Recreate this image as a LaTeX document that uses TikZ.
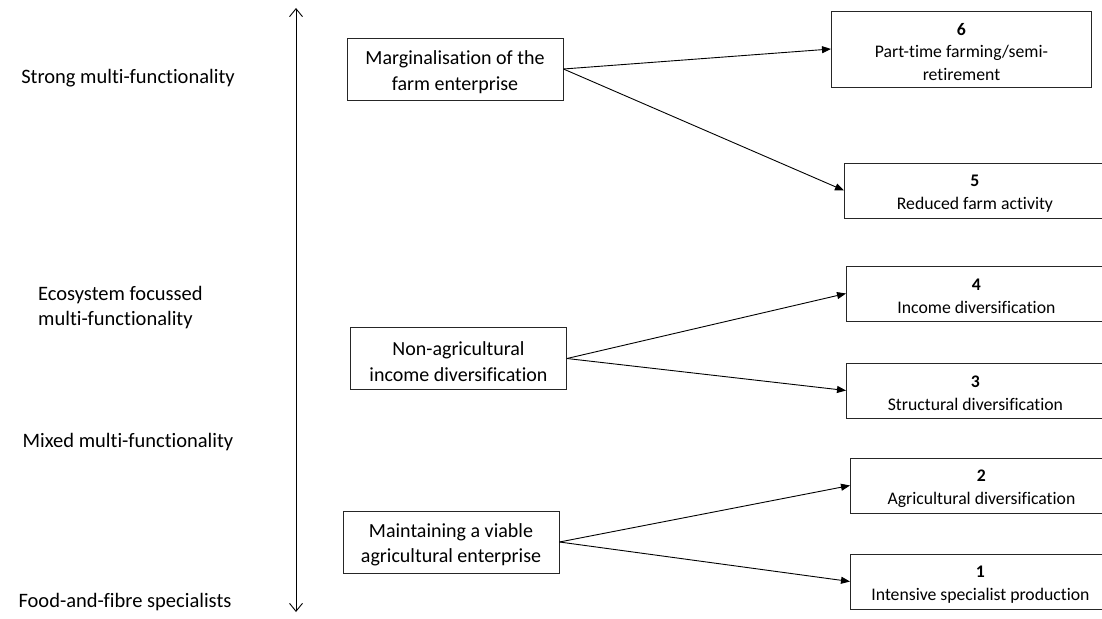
\documentclass[tikz,border=0pt]{standalone}
\usepackage{fontspec}
\setmainfont{Carlito}[Ligatures={NoCommon,NoDiscretionary,NoRequired}]
\usetikzlibrary{arrows.meta}
\begin{document}
\begin{tikzpicture}[x=1pt,y=-1pt,
  frame/.style={draw=black!85, line width=0.9pt, inner sep=0pt},
  midtext/.style={align=center, inner sep=0pt, yshift=-3pt,
    font=\fontsize{20}{25.5}\selectfont},
  outtext/.style={align=center, inner sep=0pt, yshift=-3pt,
    font=\fontsize{17.7}{22.8}\selectfont},
  midbox/.style={frame, minimum width=216pt, minimum height=62pt},
  outbox/.style={frame, minimum height=55pt, anchor=west},
  level/.style={font=\fontsize{20.5}{25}\selectfont, inner sep=0pt},
  flow/.style={line width=0.9pt, -{Triangle[length=9pt,width=7pt]}},
  axis/.style={line width=0.9pt, {Straight Barb[length=8pt,width=13pt]}-{Straight Barb[length=8pt,width=13pt]}}
]
\useasboundingbox (0,0) rectangle (1102,618);

% vertical scale of multi-functionality
\coordinate (top) at (296,8);
\coordinate (bot) at (296,612);
\draw[axis] (top) -- (bot);

\node[level] (l1) at (128,78) {Strong multi-functionality};
\node[level, align=left, anchor=west] (l2) at (38,308) {Ecosystem focussed\\multi-functionality};
\node[level] (l3) at (128,442) {Mixed multi-functionality};
\node[level] (l4) at (125,602) {Food-and-fibre specialists};

% pathways
\node[midbox, label={[midtext]center:{Marginalisation of the\\farm enterprise}}] (A) at (455,69) {};
\node[midbox, label={[midtext]center:{Non-agricultural\\income diversification}}] (B) at (458.5,358.5) {};
\node[midbox, label={[midtext]center:{Maintaining a viable\\agricultural enterprise}}] (C) at (451,542) {};

% outcomes
\node[outbox, minimum width=260pt, minimum height=76pt,
  label={[outtext]center:{\textbf{6}\\Part-time farming/semi-\\retirement}}] (o6) at (831,49) {};
\node[outbox, minimum width=261pt,
  label={[outtext]center:{\textbf{5}\\Reduced farm activity}}] (o5) at (844,190.5) {};
\node[outbox, minimum width=260pt,
  label={[outtext]center:{\textbf{4}\\Income diversification}}] (o4) at (846,293.5) {};
\node[outbox, minimum width=258pt,
  label={[outtext]center:{\textbf{3}\\Structural diversification}}] (o3) at (846,390.5) {};
\node[outbox, minimum width=262pt,
  label={[outtext]center:{\textbf{2}\\Agricultural diversification}}] (o2) at (850,485.5) {};
\node[outbox, minimum width=260pt,
  label={[outtext]center:{\textbf{1}\\Intensive specialist production}}] (o1) at (850,581.5) {};

\draw[flow] (A.east) -- (o6.west);
\draw[flow] (A.east) -- (o5.west);
\draw[flow] (B.east) -- (o4.west);
\draw[flow] (B.east) -- (o3.west);
\draw[flow] (C.east) -- (o2.west);
\draw[flow] (C.east) -- (o1.west);
\end{tikzpicture}
\end{document}
